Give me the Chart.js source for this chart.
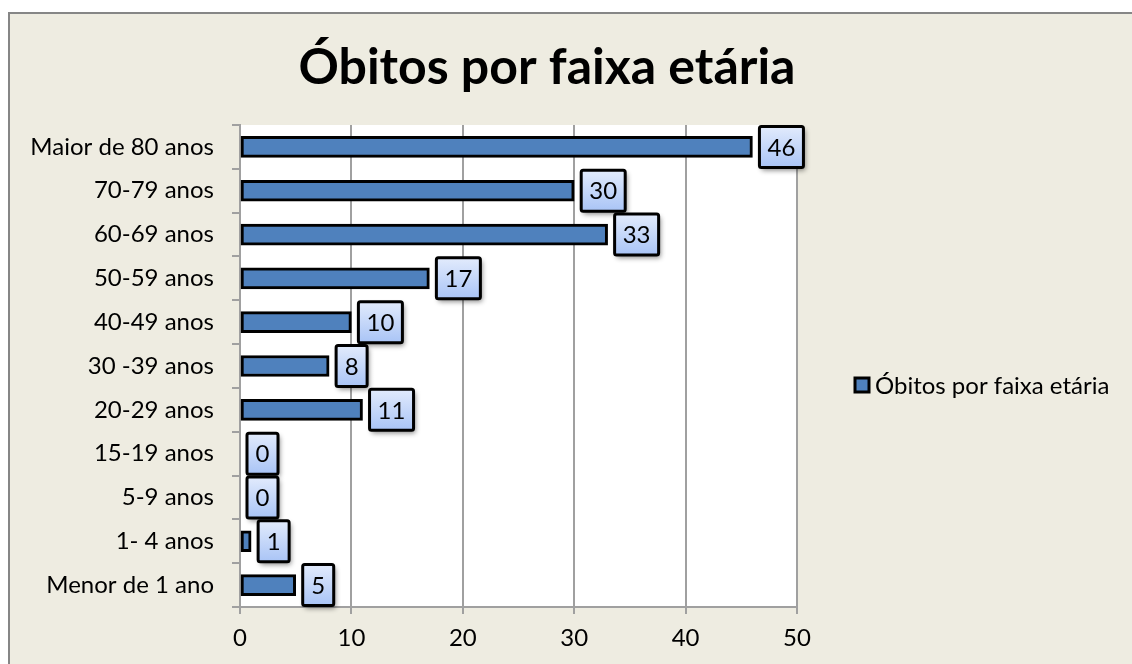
<!DOCTYPE html>
<html>
<head>
<meta charset="utf-8">
<script src="https://cdn.jsdelivr.net/npm/chart.js@4"></script>
<style>
    html, body { margin: 0; padding: 0; background: #fff; }
    #wrap { width: 1132px; height: 664px; }
</style>
</head>
<body>
<div id="wrap"><canvas id="obitos-chart"></canvas></div>
<script>
const categories = ['Maior de 80 anos', '70-79 anos', '60-69 anos', '50-59 anos', '40-49 anos',
    '30 -39 anos', '20-29 anos', '15-19 anos', '5-9 anos', '1- 4 anos', 'Menor de 1 ano'];
const deaths = [46, 30, 33, 17, 10, 8, 11, 0, 0, 1, 5];
const xTicks = [0, 10, 20, 30, 40, 50];
const seriesName = 'Óbitos por faixa etária';
const chartTitle = 'Óbitos por faixa etária';

const FONT = 'Lato, "Noto Sans", sans-serif';

// moldura bege com borda cinza, titulo e legenda
const framePlugin = {
    id: 'frame',
    beforeDraw(chart) {
        const ctx = chart.ctx;
        ctx.save();
        ctx.fillStyle = '#ffffff';
        ctx.fillRect(0, 0, chart.width, chart.height);
        ctx.fillStyle = '#EEECE1';
        ctx.fillRect(8, 12, chart.width, chart.height);
        ctx.strokeStyle = '#868686';
        ctx.lineWidth = 2;
        ctx.beginPath();
        ctx.moveTo(9, chart.height + 5);
        ctx.lineTo(9, 13);
        ctx.lineTo(chart.width + 5, 13);
        ctx.stroke();
        // area do grafico branca
        const a = chart.chartArea;
        ctx.fillStyle = '#ffffff';
        ctx.fillRect(a.left, a.top, a.right - a.left, a.bottom - a.top);
        ctx.restore();
    },
    afterDraw(chart) {
        const ctx = chart.ctx;
        ctx.save();
        ctx.fillStyle = '#000';
        ctx.textAlign = 'center';
        ctx.textBaseline = 'middle';
        ctx.font = 'bold 50px ' + FONT;
        ctx.fillText(chartTitle, 547, 68);

        // legenda
        ctx.fillStyle = '#4F81BD';
        ctx.fillRect(855, 378, 14, 14);
        ctx.strokeStyle = '#000';
        ctx.lineWidth = 3;
        ctx.strokeRect(855, 378, 14, 14);
        ctx.fillStyle = '#000';
        ctx.textAlign = 'left';
        ctx.font = '24px ' + FONT;
        ctx.fillText(seriesName, 875, 386);
        ctx.restore();
    }
};

// rotulos de dados em caixinhas azuis
const boxLabels = {
    id: 'boxLabels',
    afterDatasetsDraw(chart) {
        const ctx = chart.ctx;
        const meta = chart.getDatasetMeta(0);
        ctx.save();
        ctx.font = '24px ' + FONT;
        ctx.textAlign = 'center';
        ctx.textBaseline = 'middle';
        meta.data.forEach((bar, i) => {
            const txt = String(deaths[i]);
            const w = txt.length > 1 ? 44 : 31;
            const h = 41;
            const left = bar.x + 7;
            const top = bar.y - h / 2;
            const grad = ctx.createLinearGradient(0, top, 0, top + h);
            grad.addColorStop(0, '#E2EBFC');
            grad.addColorStop(1, '#A9C4F6');
            ctx.save();
            ctx.shadowColor = 'rgba(0,0,0,0.45)';
            ctx.shadowBlur = 5;
            ctx.shadowOffsetX = 2;
            ctx.shadowOffsetY = 3;
            ctx.fillStyle = grad;
            ctx.strokeStyle = '#000';
            ctx.lineWidth = 3;
            ctx.beginPath();
            ctx.roundRect(left, top, w, h, 2);
            ctx.fill();
            ctx.shadowColor = 'transparent';
            ctx.stroke();
            ctx.restore();
            ctx.fillStyle = '#000';
            ctx.fillText(txt, left + w / 2, bar.y + 1);
        });
        ctx.restore();
    }
};

const ctx = document.getElementById('obitos-chart').getContext('2d');

const obitosChart = new Chart(ctx, {
    type: 'bar',
    data: {
        labels: categories,
        datasets: [{
            label: seriesName,
            data: deaths,
            backgroundColor: '#4F81BD',
            borderColor: '#000000',
            borderWidth: 3,
            borderSkipped: false,
            barThickness: 21
        }]
    },
    options: {
        indexAxis: 'y',
        responsive: true,
        maintainAspectRatio: false,
        animation: false,
        layout: {
            padding: { left: 0, top: 125, right: 335, bottom: 0 }
        },
        plugins: {
            legend: { display: false },
            title: { display: false },
            tooltip: { enabled: false }
        },
        scales: {
            x: {
                min: 0,
                max: 50,
                afterBuildTicks: (scale) => {
                    scale.ticks = xTicks.map(v => ({ value: v }));
                },
                afterFit: (scale) => { scale.height = 57; },
                grid: {
                    color: '#A0A0A0',
                    lineWidth: 2,
                    tickLength: 7,
                    drawTicks: true
                },
                border: { color: '#A0A0A0', width: 2 },
                ticks: {
                    color: '#000',
                    font: { size: 24, family: FONT },
                    padding: 10
                }
            },
            y: {
                afterFit: (scale) => { scale.width = 240; },
                grid: {
                    offset: true,
                    drawOnChartArea: false,
                    color: '#A0A0A0',
                    lineWidth: 2,
                    tickLength: 8
                },
                border: { color: '#A0A0A0', width: 2 },
                ticks: {
                    color: '#000',
                    font: { size: 24, family: FONT },
                    padding: 18
                }
            }
        }
    },
    plugins: [framePlugin, boxLabels]
});
</script>
</body>
</html>
